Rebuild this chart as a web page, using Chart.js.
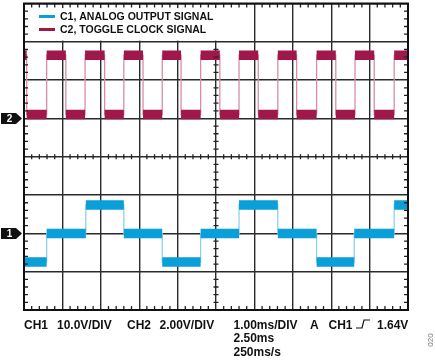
<!DOCTYPE html>
<html><head><meta charset="utf-8">
<script src="https://cdn.jsdelivr.net/npm/chart.js@4.4.0/dist/chart.umd.min.js"></script>
<style>html,body{margin:0;padding:0;background:#fff;}#wrap{width:435px;height:360px;position:relative;}</style>
</head><body><div id="wrap"><canvas id="c" width="435" height="360"></canvas></div>
<script>
// ---- data read from the scope capture ----
const timeStartMs = 0, timeEndMs = 10;          // 10 divisions of 1.00 ms
const divMin = -4, divMax = 4;                  // 8 vertical divisions
const ch1VoltsPerDiv = 10, ch2VoltsPerDiv = 2;
const ch1GroundDiv = -2, ch2GroundDiv = 1;
// CH1 analog output: level (V) starting at each time (ms)
const ch1Times = [0, 0.59, 1.61, 2.60, 3.60, 4.60, 5.60, 6.61, 7.62, 8.60, 9.64];
const ch1Volts = [-7.5, 0, 7.4, 0, -7.5, 0, 7.4, 0, -7.5, 0, 7.4];
// CH2 toggle clock: level (V) starting at each time (ms)
const ch2Times = [0, 0.07, 0.59, 1.09, 1.59, 2.10, 2.60, 3.10, 3.60, 4.09, 4.60, 5.10, 5.60, 6.10, 6.61, 7.10, 7.62, 8.12, 8.62, 9.12, 9.64];
const ch2Volts = [3.3, 0.2, 3.3, 0.2, 3.3, 0.2, 3.3, 0.2, 3.3, 0.2, 3.3, 0.2, 3.3, 0.2, 3.3, 0.2, 3.3, 0.2, 3.3, 0.2, 3.3];
const legendLabels = ['C1, ANALOG OUTPUT SIGNAL', 'C2, TOGGLE CLOCK SIGNAL'];
const channelMarkers = ['1', '2'];
const footerRow1 = ['CH1', '10.0V/DIV', 'CH2', '2.00V/DIV', '1.00ms/DIV', 'A', 'CH1', '1.64V'];
const footerTimeLines = ['2.50ms', '250ms/s'];
const figureId = '020';

// ---- styling ----
const C1 = '#0a9fd8', C1edge = '#8ed0ee';
const C2 = '#a0184a', C2edge = '#d98ca8';

function toDiv(v, ground, vpd) { return ground + v / vpd; }
function edgePoints(times, volts, ground, vpd) {
  const pts = [];
  for (let i = 0; i < times.length; i++) {
    const y = toDiv(volts[i], ground, vpd);
    const tEnd = i + 1 < times.length ? times[i + 1] : timeEndMs;
    pts.push({x: times[i], y}, {x: tEnd, y});
  }
  return pts;
}
function flatPoints(times, volts, ground, vpd) {
  const pts = [];
  for (let i = 0; i < times.length; i++) {
    const y = toDiv(volts[i], ground, vpd);
    const tEnd = i + 1 < times.length ? times[i + 1] : timeEndMs;
    pts.push({x: times[i], y}, {x: tEnd, y}, {x: tEnd, y: null});
  }
  return pts;
}

const scopePlugin = {
  id: 'scope',
  afterDraw(chart) {
    const ctx = chart.ctx, a = chart.chartArea;
    const xs = chart.scales.x, ys = chart.scales.y;
    const x0 = xs.getPixelForValue(5), y0 = ys.getPixelForValue(0);
    ctx.save();
    // minor ticks
    ctx.strokeStyle = '#222'; ctx.lineWidth = 1.3;
    ctx.beginPath();
    for (let k = 1; k < 50; k++) {
      if (k % 5 === 0) continue;
      const px = xs.getPixelForValue(k * 0.2);
      ctx.moveTo(px, a.top); ctx.lineTo(px, a.top + 4);
      ctx.moveTo(px, a.bottom); ctx.lineTo(px, a.bottom - 4);
      ctx.moveTo(px, y0 - 2.5); ctx.lineTo(px, y0 + 2.5);
    }
    for (let k = 1; k < 40; k++) {
      if (k % 5 === 0) continue;
      const py = ys.getPixelForValue(divMin + k * 0.2);
      ctx.moveTo(a.left, py); ctx.lineTo(a.left + 4, py);
      ctx.moveTo(a.right, py); ctx.lineTo(a.right - 4, py);
      ctx.moveTo(x0 - 2.5, py); ctx.lineTo(x0 + 2.5, py);
    }
    ctx.stroke();
    // legend box
    const boxR = xs.getPixelForValue(5.5), boxB = ys.getPixelForValue(3) - 1.2;
    ctx.fillStyle = '#fff';
    ctx.fillRect(a.left + 4.6, a.top + 4.6, boxR - a.left - 4.6, boxB - a.top - 4.6);
    // border
    ctx.strokeStyle = '#111'; ctx.lineWidth = 2;
    ctx.strokeRect(a.left, a.top, a.right - a.left, a.bottom - a.top);
    // legend
    const legColors = [C1, C2];
    ctx.font = 'bold 10.5px "Liberation Sans", Arial, sans-serif';
    ctx.textBaseline = 'middle';
    legendLabels.forEach((lab, i) => {
      const ly = a.top + 13 + i * 13;
      ctx.strokeStyle = legColors[i]; ctx.lineWidth = 3; ctx.lineCap = 'butt';
      ctx.beginPath(); ctx.moveTo(a.left + 15, ly); ctx.lineTo(a.left + 31, ly); ctx.stroke();
      ctx.fillStyle = '#111';
      ctx.fillText(lab, a.left + 36, ly + 0.5);
    });
    // channel ground markers
    const grounds = [ch1GroundDiv, ch2GroundDiv];
    channelMarkers.forEach((m, i) => {
      const yc = ys.getPixelForValue(grounds[i]);
      ctx.fillStyle = '#111';
      ctx.beginPath();
      ctx.moveTo(1, yc - 5.5); ctx.lineTo(16, yc - 5.5); ctx.lineTo(22, yc);
      ctx.lineTo(16, yc + 5.5); ctx.lineTo(1, yc + 5.5); ctx.closePath(); ctx.fill();
      ctx.fillStyle = '#fff';
      ctx.font = 'bold 10px "Liberation Sans", Arial, sans-serif';
      ctx.textAlign = 'center'; ctx.textBaseline = 'middle';
      ctx.fillText(m, 9.5, yc + 0.5);
    });
    // footer
    ctx.fillStyle = '#111'; ctx.textAlign = 'left'; ctx.textBaseline = 'alphabetic';
    ctx.font = 'bold 12px "Liberation Sans", Arial, sans-serif';
    const fx = [24, 57, 127, 159.5, 233.5, 310, 328.5, 377];
    const base1 = a.bottom + 18.5;
    footerRow1.forEach((t, i) => ctx.fillText(t, fx[i], base1));
    footerTimeLines.forEach((t, i) => ctx.fillText(t, 233.5, base1 + 13.5 * (i + 1)));
    // trigger slope symbol
    ctx.strokeStyle = '#111'; ctx.lineWidth = 1.2;
    ctx.beginPath();
    ctx.moveTo(356, base1 - 0.5); ctx.lineTo(362, base1 - 0.5);
    ctx.lineTo(364, base1 - 8.5); ctx.lineTo(370, base1 - 8.5);
    ctx.stroke();
    // figure id
    ctx.save();
    ctx.translate(431, 340); ctx.rotate(-Math.PI / 2);
    ctx.font = '8px "Liberation Sans", Arial, sans-serif';
    ctx.fillStyle = '#777'; ctx.textAlign = 'center'; ctx.textBaseline = 'middle';
    ctx.fillText(figureId, 0, 0);
    ctx.restore();
    ctx.restore();
  }
};

new Chart(document.getElementById('c'), {
  type: 'line',
  data: {
    datasets: [
      {label: legendLabels[0], data: flatPoints(ch1Times, ch1Volts, ch1GroundDiv, ch1VoltsPerDiv), borderColor: C1, borderWidth: 9.5, borderCapStyle: 'butt', spanGaps: false, order: 0},
      {label: legendLabels[1], data: flatPoints(ch2Times, ch2Volts, ch2GroundDiv, ch2VoltsPerDiv), borderColor: C2, borderWidth: 9.5, borderCapStyle: 'butt', spanGaps: false, order: 0},
      {label: 'C1 edges', data: edgePoints(ch1Times, ch1Volts, ch1GroundDiv, ch1VoltsPerDiv), borderColor: C1edge, borderWidth: 1.3, order: 1},
      {label: 'C2 edges', data: edgePoints(ch2Times, ch2Volts, ch2GroundDiv, ch2VoltsPerDiv), borderColor: C2edge, borderWidth: 1.3, order: 1}
    ]
  },
  options: {
    responsive: false, animation: false, devicePixelRatio: 1,
    parsing: false,
    layout: {padding: {left: 24, right: 27, top: 3.5, bottom: 50}},
    plugins: {legend: {display: false}, tooltip: {enabled: false}},
    elements: {point: {radius: 0}, line: {tension: 0, fill: false}},
    scales: {
      x: {type: 'linear', min: timeStartMs, max: timeEndMs,
          ticks: {display: false, stepSize: 1},
          grid: {color: '#2a2a2a', lineWidth: 1.4, drawTicks: false}, border: {display: false}},
      y: {type: 'linear', min: divMin, max: divMax,
          ticks: {display: false, stepSize: 1},
          grid: {color: '#2a2a2a', lineWidth: 1.4, drawTicks: false}, border: {display: false}}
    }
  },
  plugins: [scopePlugin]
});
</script></body></html>
